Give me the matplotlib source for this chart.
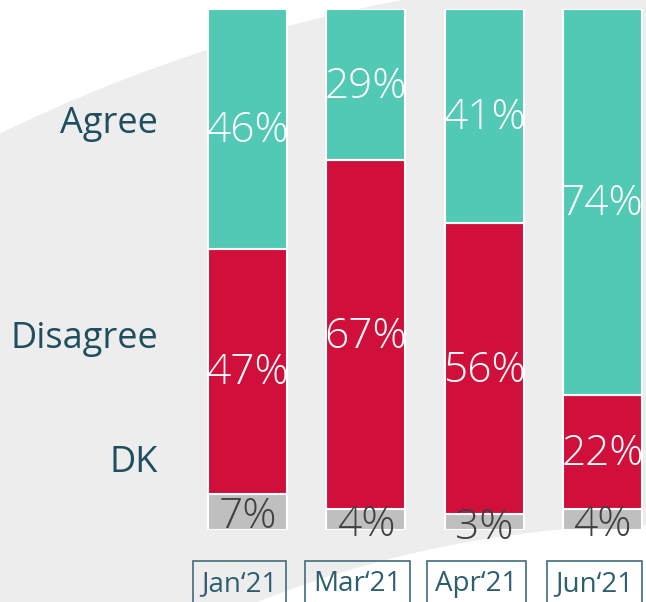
import matplotlib.pyplot as plt
from matplotlib.patches import Circle
import numpy as np

plt.rcParams['font.family'] = ['Open Sans', 'DejaVu Sans']

###############################################################################
# Data
###############################################################################
waves = ['Jan‘21', 'Mar‘21', 'Apr‘21', 'Jun‘21']
agree = [46, 29, 41, 74]
disagree = [47, 67, 56, 22]
dk = [7, 4, 3, 4]
rowLabels = ['Agree', 'Disagree', 'DK']

tealCol = '#52C9B5'
redCol = '#D0103A'
grayCol = '#BFBFBF'
labelCol = '#1F4E5F'

###############################################################################
# Figure + background shapes
###############################################################################
fig = plt.figure(figsize=(6.46, 6.02), dpi=100)

bg = fig.add_axes([0, 0, 1, 1], zorder=0)
bg.set_xlim(0, 646)
bg.set_ylim(602, 0)
bg.axis('off')
bg.add_patch(Circle((700, 1570), 1598, fc='#EDEDED', ec='none'))
bg.add_patch(Circle((660, 1618), 1093, fc='white', ec='none'))

###############################################################################
# Bars
###############################################################################
ax = fig.add_axes([0, (602 - 530) / 602, 1, 521 / 602], zorder=1)
ax.patch.set_alpha(0)
ax.axis('off')
pxPerUnit = 118.33
ax.set_xlim(-247.5 / pxPerUnit, 3 + (646 - 602.5) / pxPerUnit)
ax.set_ylim(0, 100)

x = np.arange(len(waves))
barW = 79 / pxPerUnit
dk = np.array(dk)
disagree = np.array(disagree)
agree = np.array(agree)

ax.bar(x, dk, width=barW, color=grayCol, edgecolor='white', lw=1.5)
ax.bar(x, disagree, bottom=dk, width=barW, color=redCol, edgecolor='white', lw=1.5)
ax.bar(x, agree, bottom=dk + disagree, width=barW, color=tealCol, edgecolor='white', lw=1.5)

#Value labels
for i in x:
    ax.text(i, dk[i] / 2 - 1.0, f'{dk[i]}%', ha='center', va='center',
            fontsize=30.5, fontweight='light', color='#404040', clip_on=False)
    ax.text(i, dk[i] + disagree[i] / 2 - 0.4, f'{disagree[i]}%', ha='center', va='center',
            fontsize=30.5, fontweight='light', color='white')
    ax.text(i, dk[i] + disagree[i] + agree[i] / 2 - 0.4, f'{agree[i]}%', ha='center', va='center',
            fontsize=30.5, fontweight='light', color='white')

#Row labels on the left
rowY = [78.0, 36.6, 12.8]
for lab, yy in zip(rowLabels, rowY):
    ax.text((158 - 247.5) / pxPerUnit, yy, lab, ha='right', va='center',
            fontsize=26, color=labelCol)

#Wave labels in boxes
for i, w in enumerate(waves):
    ax.text(i - 8 / pxPerUnit, -10.3, w, ha='center', va='center', fontsize=20,
            color='#2F5F6E', clip_on=False,
            bbox=dict(boxstyle='square,pad=0.3', fc='none', ec='#3E6D7C', lw=1.2))

plt.savefig('out.png', dpi=100)
